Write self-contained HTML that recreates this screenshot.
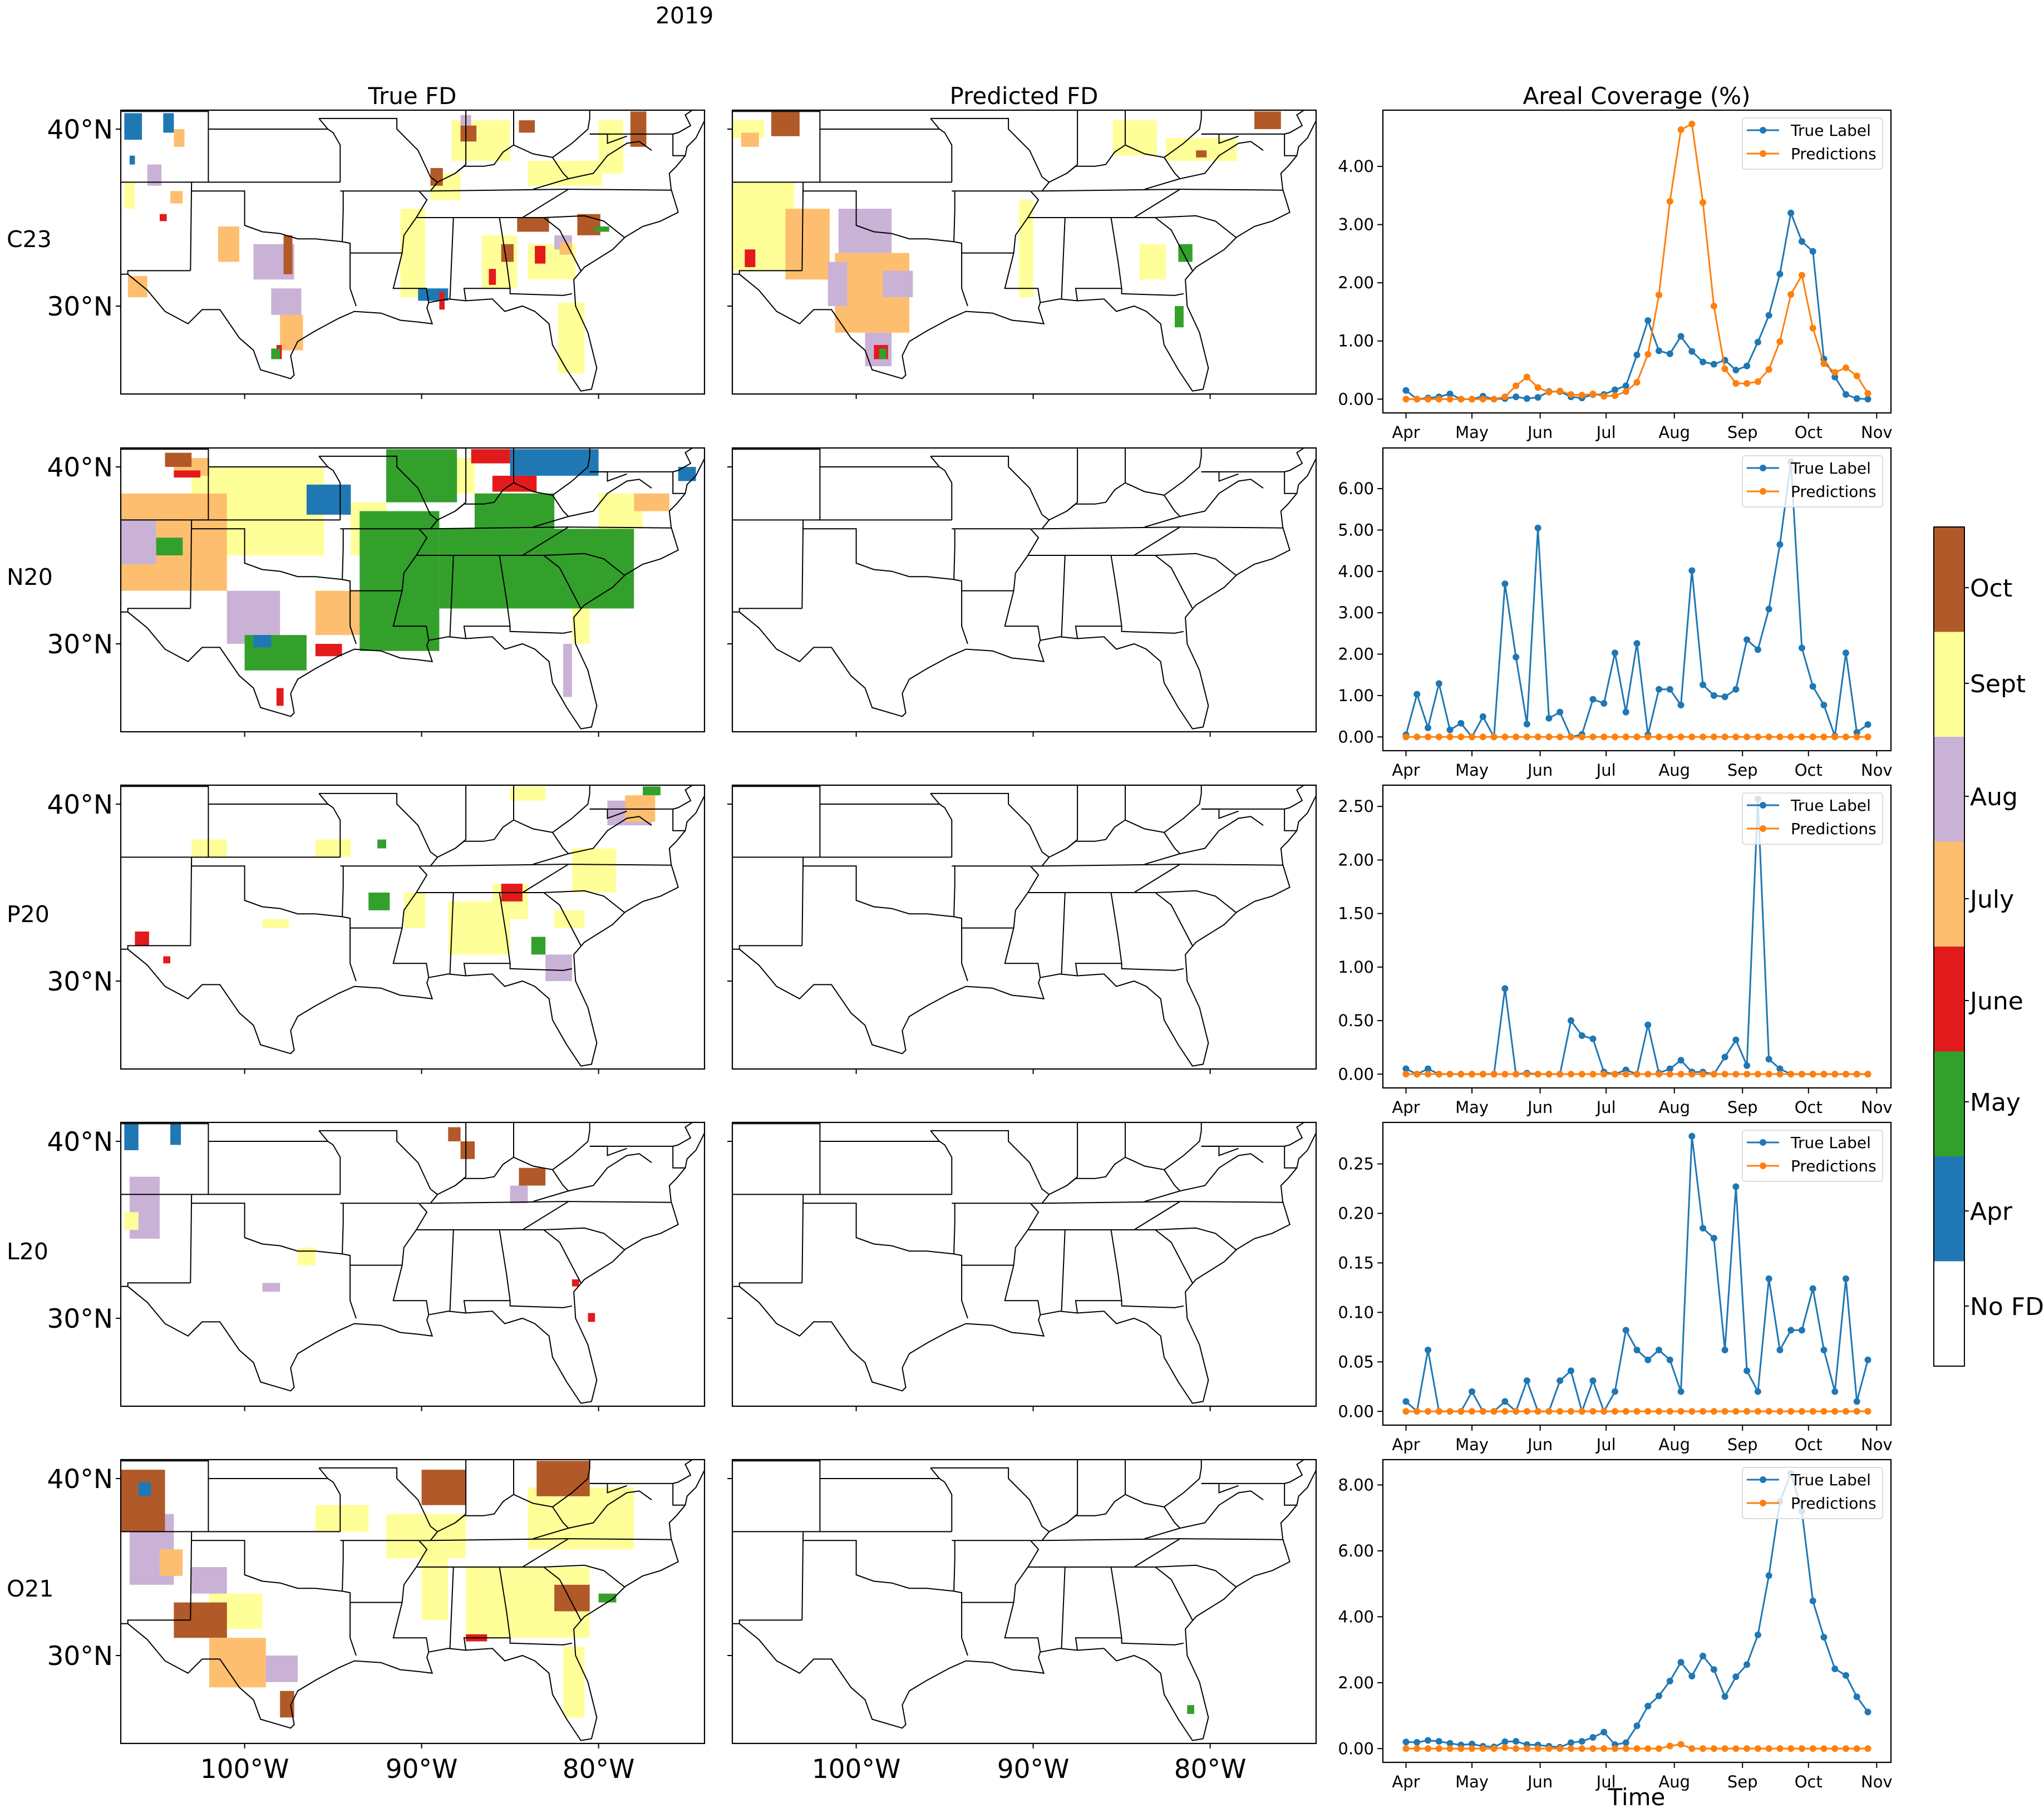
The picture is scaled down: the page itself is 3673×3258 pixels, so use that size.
<!DOCTYPE html>
<html><head><meta charset="utf-8"><style>
html,body{margin:0;padding:0;background:#fff;}
svg{display:block;font-family:"DejaVu Sans","Liberation Sans",sans-serif;}
</style></head><body>
<svg id="fig" xmlns="http://www.w3.org/2000/svg" width="3673" height="3258" viewBox="0 0 3673 3258">
<rect x="0" y="0" width="3673" height="3258" fill="#fff"/>
<text x="1230" y="42" font-size="41" text-anchor="middle">2019</text>
<text x="741" y="187" font-size="42" text-anchor="middle">True FD</text>
<text x="1840" y="187" font-size="42" text-anchor="middle">Predicted FD</text>
<text x="2941" y="187" font-size="42" text-anchor="middle">Areal Coverage (%)</text>
<text x="2941" y="3244" font-size="42" text-anchor="middle">Time</text>
<g id="maps"></g>
<g id="charts"></g>
<g id="cbar"></g>
</svg>
<script>
// ---------- chart data ----------
const monthLabels = ["Apr","May","Jun","Jul","Aug","Sep","Oct","Nov"];
const monthDays = [0,30,61,91,122,153,183,214];
const sampleStepDays = 5;
const rowNames = ["C23","N20","P20","L20","O21"];
const trueC23 = [0.15,0,0.02,0.04,0.09,0,0,0.05,0,0.01,0.04,0.01,0.03,0.13,0.13,0.04,0.02,0.08,0.08,0.16,0.23,0.76,1.35,0.83,0.78,1.08,0.82,0.64,0.60,0.67,0.50,0.57,0.98,1.44,2.15,3.20,2.71,2.54,0.69,0.38,0.08,0.01,0];
const predC23 = [0,0,0,0,0,0,0,0,0,0.04,0.23,0.38,0.20,0.12,0.14,0.08,0.07,0.09,0.05,0.06,0.13,0.29,0.77,1.79,3.40,4.63,4.73,3.38,1.60,0.52,0.27,0.27,0.30,0.51,0.99,1.80,2.13,1.22,0.61,0.46,0.54,0.40,0.10];
const trueN20 = [0.05,1.03,0.22,1.29,0.17,0.33,0,0.49,0,3.70,1.93,0.31,5.05,0.45,0.60,0,0.06,0.91,0.81,2.03,0.60,2.26,0.05,1.15,1.15,0.77,4.02,1.26,1.00,0.97,1.15,2.35,2.11,3.09,4.65,6.65,2.15,1.22,0.77,0.02,2.03,0.11,0.30];
const predN20 = [0,0,0,0,0,0,0,0,0,0,0,0,0,0,0,0,0,0,0,0,0,0,0,0,0,0,0,0,0,0,0,0,0,0,0,0,0,0,0,0,0,0,0];
const trueP20 = [0.05,0,0.05,0,0,0,0,0,0,0.80,0,0.01,0,0,0,0.50,0.36,0.33,0.02,0,0.04,0,0.46,0.01,0.05,0.13,0.02,0.02,0,0.16,0.32,0.08,2.57,0.14,0.05,0,0,0,0,0,0,0,0];
const predP20 = [0,0,0,0,0,0,0,0,0,0,0,0,0,0,0,0,0,0,0,0,0,0,0,0,0,0,0,0,0,0,0,0,0,0,0,0,0,0,0,0,0,0,0];
const trueL20 = [0.01,0,0.062,0,0,0,0.02,0,0,0.01,0,0.031,0,0,0.031,0.041,0,0.031,0,0.02,0.082,0.062,0.052,0.062,0.052,0.02,0.278,0.185,0.175,0.062,0.227,0.041,0.02,0.134,0.062,0.082,0.082,0.124,0.062,0.02,0.134,0.01,0.052];
const predL20 = [0,0,0,0,0,0,0,0,0,0,0,0,0,0,0,0,0,0,0,0,0,0,0,0,0,0,0,0,0,0,0,0,0,0,0,0,0,0,0,0,0,0,0];
const trueO21 = [0.2,0.19,0.25,0.22,0.16,0.11,0.14,0.07,0.05,0.21,0.22,0.12,0.11,0.07,0.04,0.18,0.22,0.34,0.50,0.12,0.18,0.69,1.29,1.60,2.05,2.62,2.20,2.81,2.40,1.58,2.18,2.55,3.45,5.25,7.50,8.35,7.20,4.48,3.38,2.42,2.22,1.57,1.11];
const predO21 = [0,0,0,0,0,0,0,0,0,0.03,0,0,0,0,0,0,0,0,0,0,0,0,0,0,0.08,0.13,0,0,0,0,0,0,0,0,0,0,0,0,0,0,0,0,0];
const ticksC23 = [0,1,2,3,4];
const ticksN20 = [0,1,2,3,4,5,6];
const ticksP20 = [0,0.5,1,1.5,2,2.5];
const ticksL20 = [0,0.05,0.1,0.15,0.2,0.25];
const ticksO21 = [0,2,4,6,8];
const trueSeries = [trueC23,trueN20,trueP20,trueL20,trueO21];
const predSeries = [predC23,predN20,predP20,predL20,predO21];
const yTickSets = [ticksC23,ticksN20,ticksP20,ticksL20,ticksO21];
const cbarLabels = ["Oct","Sept","Aug","July","June","May","Apr","No FD"];
const cbarColors = ["#b15928","#ffff99","#cab2d6","#fdbf6f","#e31a1c","#33a02c","#1f78b4","#ffffff"];

const NS = "http://www.w3.org/2000/svg";
function mk(tag, attrs, parent){const e=document.createElementNS(NS,tag);for(const k in attrs)e.setAttribute(k,attrs[k]);if(parent)parent.appendChild(e);return e;}

const rowTops = [198,805,1411,2017,2623];
const AX_L = 2485, AX_R = 3398, AX_H = 544;

// ---------- charts ----------
const chartsG = document.getElementById('charts');
rowTops.forEach((top, r) => {
  const g = mk('g', {}, chartsG);
  
  
  const t = trueSeries[r], p = predSeries[r];
  const n = t.length;
  const all = t.concat(p);
  const vmin = Math.min(...all), vmax = Math.max(...all);
  const ymin = vmin - 0.05*(vmax-vmin), ymax = vmax + 0.05*(vmax-vmin);
  const lastDay = (n-1)*sampleStepDays;
  const xmin = -0.05*lastDay, xmax = lastDay*1.05;
  const bottom = top + AX_H;
  const xs = d => AX_L + (d - xmin)/(xmax-xmin)*(AX_R-AX_L);
  const ys = v => bottom - (v - ymin)/(ymax-ymin)*AX_H;
  yTickSets[r].forEach(v => {
    const y = ys(v);
    mk('line', {x1:AX_L-10,x2:AX_L,y1:y,y2:y,stroke:'#000','stroke-width':2}, g);
    const tx = mk('text', {x:AX_L-16,y:y+10,'font-size':29,'text-anchor':'end'}, g);
    tx.textContent = v.toFixed(2);
    
    
  });
  monthDays.forEach((d,i) => {
    const x = xs(d);
    mk('line', {x1:x,x2:x,y1:bottom,y2:bottom+10,stroke:'#000','stroke-width':2}, g);
    const tx = mk('text', {x:x,y:bottom+45,'font-size':29,'text-anchor':'middle'}, g);
    tx.textContent = monthLabels[i];
    
    
  });
  [[t,'#1f77b4','true-label-series'],[p,'#ff7f0e','predictions-series']].forEach(([arr,col,nm]) => {
    const sg = mk('g', {}, g);
    
    
    const pts = arr.map((v,i)=>xs(i*sampleStepDays).toFixed(1)+','+ys(v).toFixed(1)).join(' ');
    mk('polyline', {points:pts,fill:'none',stroke:col,'stroke-width':3}, sg);
    arr.forEach((v,i)=>{
      const c = mk('circle', {cx:xs(i*sampleStepDays),cy:ys(v),r:6,fill:col}, sg);
      
      
    });
  });
  const frame = mk('rect', {x:AX_L,y:top,width:AX_R-AX_L,height:AX_H,fill:'none',stroke:'#000','stroke-width':2.2}, g);
  
  
  const lg = mk('g', {}, g);
  
  
  mk('rect', {x:3131,y:top+14,width:252,height:92,rx:5,fill:'#fff','fill-opacity':0.8,stroke:'#ddd','stroke-width':2}, lg);
  [['True Label','#1f77b4',36],['Predictions','#ff7f0e',78]].forEach(([lab,col,dy])=>{
    const e = mk('g', {}, lg);
    
    
    mk('line', {x1:3139,x2:3197,y1:top+dy,y2:top+dy,stroke:col,'stroke-width':3}, e);
    mk('circle', {cx:3168,cy:top+dy,r:6,fill:col}, e);
    const tx = mk('text', {x:3218,y:top+dy+10,'font-size':28}, e);
    tx.textContent = lab;
  });
});

// ---------- colorbar ----------
const cb = document.getElementById('cbar');


const CB_T = 947, CB_B = 2455, CB_L = 3475, CB_R = 3530;
const segH = (CB_B-CB_T)/cbarColors.length;
cbarColors.forEach((c,i)=>{
  const s = mk('rect', {x:CB_L,y:CB_T+i*segH,width:CB_R-CB_L,height:segH+0.5,fill:c}, cb);
  
  
});
mk('rect', {x:CB_L,y:CB_T,width:CB_R-CB_L,height:CB_B-CB_T,fill:'none',stroke:'#000','stroke-width':2}, cb);
const cbTickY = [1056,1228,1431,1615,1798,1980,2176,2347];
cbarLabels.forEach((l,i)=>{
  mk('line', {x1:CB_R,x2:CB_R+8,y1:cbTickY[i],y2:cbTickY[i],stroke:'#000','stroke-width':2}, cb);
  const tx = mk('text', {x:3540,y:cbTickY[i]+16,'font-size':44}, cb);
  tx.textContent = l;
  
  
});

// ---------- maps ----------
const COLS = {o:'#b15928',s:'#ffff99',a:'#cab2d6',j:'#fdbf6f',u:'#e31a1c',m:'#33a02c',p:'#1f78b4'};
const MAP_W = 1049, MAP_H = 510, PPD = 31.8, LON0 = -107, LAT0 = 41.07;
const mapLefts = [217, 1316];
const coast = [[-107,31.8],[-106.6,31.8],[-105.5,30.9],[-104.5,29.7],[-103.2,29.0],[-102.4,29.8],[-101.4,29.8],[-100.3,28.2],[-99.5,27.5],[-99.1,26.4],[-97.4,25.9],[-97.2,26.1],[-97.4,27.2],[-97.0,28.0],[-96.0,28.6],[-94.7,29.3],[-93.8,29.7],[-92.3,29.6],[-91.2,29.2],[-90.2,29.1],[-89.4,29.0],[-89.7,29.9],[-89.6,30.2],[-88.5,30.4],[-87.5,30.3],[-86.0,30.4],[-85.3,29.7],[-84.3,30.0],[-83.6,29.7],[-82.8,29.0],[-82.6,27.8],[-81.8,26.4],[-81.0,25.2],[-80.4,25.3],[-80.1,26.5],[-80.6,28.5],[-81.3,30.0],[-81.4,31.5],[-80.8,32.2],[-79.2,33.2],[-78.5,33.9],[-77.5,34.5],[-76.5,34.8],[-75.5,35.3],[-75.9,36.6],[-76.0,37.5],[-75.6,37.9],[-75.1,38.5],[-75.0,39.0],[-74.5,39.5],[-74.0,40.5]];
const borders = [
 [[-103.06,32.0],[-106.6,32.0],[-106.6,31.8]],
 [[-103.06,32.0],[-103.0,37.0]],
 [[-107,37.0],[-94.6,37.0]],
 [[-103.0,36.5],[-100.0,36.5],[-100.0,34.56],[-99,34.2],[-98,34.1],[-97,33.8],[-96,33.8],[-94.5,33.64],[-94.04,33.55],[-94.04,31.0],[-93.7,30.0]],
 [[-102.05,37.0],[-102.05,41.07]],
 [[-107,41.0],[-102.05,41.0]],
 [[-102.05,40.0],[-95.3,40.0]],
 [[-94.6,37.0],[-94.6,39.1],[-95.0,39.8],[-95.3,40.0],[-95.8,40.6]],
 [[-94.43,36.5],[-94.43,35.4],[-94.48,33.64]],
 [[-94.6,36.5],[-90.15,36.5],[-89.7,36.0],[-90.3,35.0],[-91.0,34.0],[-91.1,33.0],[-94.04,33.0]],
 [[-91.1,33.0],[-91.6,31.0],[-89.73,31.0],[-89.6,30.2]],
 [[-95.8,40.6],[-91.4,40.6],[-91.4,40.0],[-90.2,38.8],[-89.5,37.3],[-89.1,37.0],[-89.5,36.5]],
 [[-90.3,35.0],[-88.2,35.0],[-88.4,30.4]],
 [[-88.2,35.0],[-84.3,35.0],[-83.1,35.0],[-80.8,35.1],[-79.7,34.8],[-78.5,33.85]],
 [[-85.6,35.0],[-85.2,32.5],[-85.0,31.0],[-87.6,31.0],[-87.5,30.3]],
 [[-85.0,31.0],[-85.0,30.7],[-82.0,30.6],[-81.5,30.7]],
 [[-83.1,35.0],[-82.2,34.3],[-81.0,32.0]],
 [[-90.1,36.5],[-89.5,36.5],[-81.7,36.6],[-75.9,36.55]],
 [[-84.3,35.0],[-81.7,36.6]],
 [[-89.1,37.0],[-88.1,37.5],[-87.6,37.9],[-86.5,37.9],[-85.9,38.0],[-85.4,38.7],[-84.8,39.1],[-83.7,38.6],[-82.6,38.4],[-82.0,37.5],[-81.7,37.2],[-83.7,36.6]],
 [[-87.5,41.07],[-87.5,38.0],[-88.1,37.5]],
 [[-84.8,41.07],[-84.8,39.1]],
 [[-82.6,38.4],[-81.5,39.2],[-80.6,40.0],[-80.5,40.6],[-80.5,41.07]],
 [[-81.7,37.2],[-80.3,37.5],[-79.5,38.5],[-78.4,39.2],[-77.7,39.3],[-77.0,38.8]],
 [[-80.5,39.72],[-75.8,39.72],[-75.8,38.5],[-75.1,38.5]],
 [[-80.5,39.72],[-79.5,39.72],[-79.5,39.2],[-78.4,39.6]],
 [[-75.8,39.72],[-75.5,39.8],[-74.8,40.2],[-75.1,40.8],[-74.7,41.07]]
];
const mapBlobs = {
 'c23-true': [
  ['s',-91.2,35.5,-89.8,30.5],['s',-88.3,40.5,-85.0,38.2],['s',-84,38.2,-79.8,36.8],['s',-86.6,34,-84.6,31.0],['s',-84,33.5,-81.3,31.5],['s',-82.3,30.2,-80.8,26.2],['s',-80,40.5,-78.6,37.5],['s',-89.5,37.5,-87.8,36.0],['s',-106.8,37,-106.2,35.5],
  ['a',-105.5,38.0,-104.7,36.8],['a',-99.5,33.5,-97.2,31.5],['a',-98.5,31,-96.8,29.5],['a',-82.5,34,-81.5,33.2],['a',-87.8,40.8,-87.2,40.2],
  ['j',-104.2,36.5,-103.5,35.8],['j',-101.5,34.5,-100.3,32.5],['j',-106.6,31.7,-105.5,30.5],['j',-98,29.5,-96.7,27.5],['j',-104.0,40,-103.4,39],['j',-82.2,33.6,-81.5,32.9],
  ['o',-97.8,34.0,-97.3,31.8],['o',-84.6,35.0,-82.8,34.2],['o',-85.5,33.5,-84.8,32.5],['o',-81.2,35.2,-79.9,34.0],['o',-87.8,40.2,-86.9,39.3],['o',-78.2,41.0,-77.3,39.0],['o',-89.5,37.8,-88.8,36.8],['o',-84.5,40.5,-83.6,39.8],
  ['p',-106.8,40.9,-105.8,39.4],['p',-104.6,40.9,-104.0,39.8],['p',-106.5,38.5,-106.2,38.0],['p',-90.2,31.0,-88.5,30.3],
  ['u',-83.6,33.4,-83.0,32.4],['u',-86.2,32.1,-85.8,31.2],['u',-98.2,27.8,-97.9,27.0],['u',-89.0,30.8,-88.7,29.8],['u',-104.8,35.2,-104.4,34.8],
  ['m',-98.5,27.6,-98.0,27.0],['m',-80.2,34.5,-79.4,34.2]],
 'c23-pred': [
  ['s',-107,37,-103.5,32],['s',-90.8,36,-90,30.5],['s',-85.5,40.5,-83,38.5],['s',-82.5,39.5,-78.5,38.2],['s',-84,33.5,-82.5,31.5],['s',-107,40.5,-105.2,39.5],
  ['j',-104,35.5,-101.5,31.5],['j',-101.2,33,-97.0,28.5],['j',-106.5,39.8,-105.5,39.0],
  ['a',-101,35.5,-98,33],['a',-101.6,32.5,-100.5,30],['a',-98.5,32,-96.8,30.5],['a',-99.5,28.5,-98.0,26.6],
  ['o',-104.8,41,-103.2,39.6],['o',-77.5,41,-76,40],['o',-80.8,38.8,-80.2,38.4],
  ['u',-106.3,33.2,-105.7,32.2],['u',-99.0,27.8,-98.2,27.0],
  ['m',-81.8,33.5,-81.0,32.5],['m',-82.0,30.0,-81.5,28.8],['m',-98.7,27.6,-98.3,27.0]],
 'n20-true': [
  ['s',-103,40,-95.5,35],['s',-94,38,-92,35],['s',-80,38.5,-77.5,36.5],['s',-107,36,-104,33],['s',-90,40.5,-87,38.5],['s',-81.5,33,-80.5,30],
  ['j',-107,38.5,-101,33],['j',-96,33,-93,30.5],['j',-83,34,-80.5,33],['j',-104,40.5,-102,39.5],['j',-78,38.5,-76,37.5],
  ['a',-107,37,-105,34.5],['a',-101,33,-98,30],['a',-85,36.5,-83.5,35.5],['a',-82,30,-81.5,27],
  ['m',-93.5,37.5,-89,29.6],['m',-89,36.5,-78,32],['m',-92,41,-88,38],['m',-87,38.5,-82.5,36.5],['m',-100,30.5,-96.5,28.5],['m',-105,36,-103.5,35],
  ['p',-96.5,39,-94,37.3],['p',-85,41,-80,39.5],['p',-99.5,30.5,-98.5,29.8],['p',-75.5,40,-74.5,39.2],
  ['u',-87.2,41,-85,40.2],['u',-86,39.5,-83.5,38.6],['u',-96,30,-94.5,29.3],['u',-98.2,27.5,-97.8,26.5],['u',-104,39.8,-102.5,39.4],
  ['o',-104.5,40.8,-103,40]],
 'p20-true': [
  ['s',-88.5,34.5,-85,31.5],['s',-86,35.5,-84,33.5],['s',-82.5,34,-80.8,33],['s',-81.5,37.5,-79,35],['s',-103,38,-101,37],['s',-96,38,-94,37],['s',-99,33.5,-97.5,33],['s',-91,35,-89.8,33],['s',-85,41,-83,40.2],
  ['m',-93,35,-91.8,34],['m',-92.5,38,-92.0,37.5],['m',-83.8,32.5,-83,31.5],['m',-77.5,41,-76.5,40.5],
  ['u',-85.5,35.5,-84.3,34.5],['u',-106.2,32.8,-105.4,32.0],['u',-104.6,31.4,-104.2,31.0],
  ['a',-83,31.5,-81.5,30],['a',-79.5,40.2,-77,38.8],
  ['j',-78.5,40.5,-76.8,39]],
 'l20-true': [
  ['p',-106.8,41,-106,39.5],['p',-104.2,41,-103.6,39.8],
  ['a',-106.5,38,-104.8,34.5],['a',-85,37.5,-84,36.5],['a',-99,32,-98,31.5],
  ['o',-84.5,38.5,-83,37.5],['o',-87.8,40,-87,39],['o',-88.5,40.8,-87.8,40],
  ['s',-97,34,-96,33],['s',-106.8,36,-106,35],
  ['u',-80.6,30.3,-80.2,29.8],['u',-81.5,32.2,-81.1,31.8]],
 'o21-true': [
  ['s',-87.5,35,-80.5,31],['s',-92,38,-87.5,35.5],['s',-84,39.5,-78,36],['s',-102,33.5,-99,31.5],['s',-82,30.5,-80.8,26.5],['s',-90,35.5,-88.5,32],['s',-96,38.5,-93,37],
  ['a',-106.5,38,-104,34],['a',-103,35,-101,33.5],['a',-99,30,-97,28.5],
  ['o',-107,40.5,-104.5,37],['o',-104,33,-101,31],['o',-83.5,41,-80.5,39],['o',-90,40.5,-87.5,38.5],['o',-82.5,34,-80.5,32.5],['o',-98,28,-97.2,26.5],
  ['j',-102,31,-98.8,28.2],['j',-104.8,36,-103.5,34.5],
  ['m',-80,33.5,-79,33],['u',-87.5,31.2,-86.3,30.8],['p',-106,39.8,-105.3,39]],
 'o21-pred': [['m',-81.3,27.2,-80.9,26.7]]
};
const mapsG = document.getElementById('maps');
rowTops.forEach((top, r) => {
  [0,1].forEach(c => {
    const L = mapLefts[c];
    const key = rowNames[r].toLowerCase() + (c===0 ? '-true' : '-pred');
    const g = mk('g', {}, mapsG);
    
    
    const px = lon => L + (lon - LON0)*PPD;
    const py = lat => top + (LAT0 - lat)*PPD;
    const cid = 'clip-' + key;
    const cp = mk('clipPath', {id:cid}, g);
    mk('rect', {x:L,y:top,width:MAP_W,height:MAP_H}, cp);
    const inner = mk('g', {'clip-path':'url(#'+cid+')'}, g);
    (mapBlobs[key]||[]).forEach(b => {
      const rr = mk('rect', {x:px(b[1]),y:py(b[2]),width:(b[3]-b[1])*PPD,height:(b[2]-b[4])*PPD,fill:COLS[b[0]]}, inner);
      
      
    });
    const cpath = coast.map(p=>px(p[0]).toFixed(1)+','+py(p[1]).toFixed(1)).join(' ');
    mk('polyline', {points:cpath,fill:'none',stroke:'#000','stroke-width':2}, inner);
    borders.forEach(b => {
      mk('polyline', {points:b.map(p=>px(p[0]).toFixed(1)+','+py(p[1]).toFixed(1)).join(' '),fill:'none',stroke:'#000','stroke-width':2}, inner);
    });
    mk('rect', {x:L,y:top,width:MAP_W,height:MAP_H,fill:'none',stroke:'#000','stroke-width':2.2}, g);
    [40,30].forEach(lat => {
      mk('line', {x1:L-9,x2:L,y1:py(lat),y2:py(lat),stroke:'#000','stroke-width':2}, g);
      if (c===0) {
        const t = mk('text', {x:L-14,y:py(lat)+17,'font-size':47,'text-anchor':'end'}, g);
        t.textContent = lat + '°N';
        
        
      }
    });
    [-100,-90,-80].forEach(lon => {
      mk('line', {x1:px(lon),x2:px(lon),y1:top+MAP_H,y2:top+MAP_H+9,stroke:'#000','stroke-width':2}, g);
      if (r===4) {
        const t = mk('text', {x:px(lon),y:top+MAP_H+62,'font-size':47,'text-anchor':'middle'}, g);
        t.textContent = (-lon) + '°W';
        
        
      }
    });
  });
  const rl = mk('text', {x:12,y:top+246,'font-size':41}, mapsG);
  rl.textContent = rowNames[r];
  
  
});
</script>
</body></html>
